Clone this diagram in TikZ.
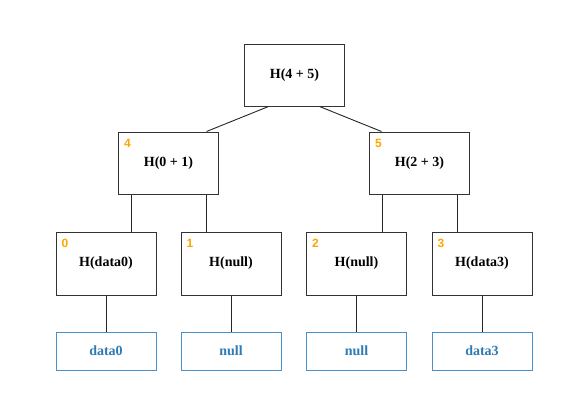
\documentclass[tikz,border=0pt]{standalone}
\usepackage{fontspec}
\setmainfont{Liberation Serif}
\newfontfamily\numfont{Liberation Sans}
\begin{document}
\begin{tikzpicture}[x=1pt,y=-1pt,
  hbox/.style={draw=black!80,line width=1pt,minimum width=100pt,minimum height=62pt,inner sep=0pt,font=\fontsize{14}{16}\selectfont\bfseries},
  leafbox/.style={draw={rgb,255:red,74;green,144;blue,200},line width=1pt,minimum width=100pt,minimum height=38pt,inner sep=0pt,text={rgb,255:red,46;green,123;blue,180},font=\fontsize{14}{16}\selectfont\bfseries},
  idx/.style={text={rgb,255:red,255;green,165;blue,0},font=\numfont\fontsize{12}{14}\selectfont\bfseries,inner sep=0pt},
  edge/.style={draw=black!85,line width=0.9pt}]
\useasboundingbox (0,0) rectangle (588,415);
\fill[white] (0,0) rectangle (588,415);
% nodes
\node[hbox] (r) at (294.5,75) {H(4 + 5)};
\node[hbox] (n4) at (168.5,163) {H(0 + 1)};
\node[hbox] (n5) at (419.5,163) {H(2 + 3)};
\node[hbox,minimum height=63pt] (n0) at (106,263.5) {H(data0)};
\node[hbox,minimum height=63pt] (n1) at (231,263.5) {H(null)};
\node[hbox,minimum height=63pt] (n2) at (356.5,263.5) {H(null)};
\node[hbox,minimum height=63pt] (n3) at (482,263.5) {H(data3)};
\node[leafbox] (l0) at (106,351) {data0};
\node[leafbox] (l1) at (231,351) {null};
\node[leafbox] (l2) at (356.5,351) {null};
\node[leafbox] (l3) at (482,351) {data3};
% index labels
\node[idx] (i4) at ([xshift=9.5pt,yshift=-11.5pt]n4.north west) {4};
\node[idx] (i5) at ([xshift=9.5pt,yshift=-11.5pt]n5.north west) {5};
\node[idx] (i0) at ([xshift=9.5pt,yshift=-11.5pt]n0.north west) {0};
\node[idx] (i1) at ([xshift=9.5pt,yshift=-11.5pt]n1.north west) {1};
\node[idx] (i2) at ([xshift=9.5pt,yshift=-11.5pt]n2.north west) {2};
\node[idx] (i3) at ([xshift=9.5pt,yshift=-11.5pt]n3.north west) {3};
% edges
\draw[edge] ([xshift=-26pt]r.south) -- ([xshift=38pt]n4.north);
\draw[edge] ([xshift=25pt]r.south) -- ([xshift=-38pt]n5.north);
\draw[edge] ([xshift=-37.5pt]n4.south) -- ([xshift=-37.5pt]n4.south |- n0.north);
\draw[edge] ([xshift=37.5pt]n4.south) -- ([xshift=37.5pt]n4.south |- n1.north);
\draw[edge] ([xshift=-37.5pt]n5.south) -- ([xshift=-37.5pt]n5.south |- n2.north);
\draw[edge] ([xshift=37.5pt]n5.south) -- ([xshift=37.5pt]n5.south |- n3.north);
\draw[edge] (n0.south) -- (l0.north);
\draw[edge] (n1.south) -- (l1.north);
\draw[edge] (n2.south) -- (l2.north);
\draw[edge] (n3.south) -- (l3.north);
\end{tikzpicture}
\end{document}
